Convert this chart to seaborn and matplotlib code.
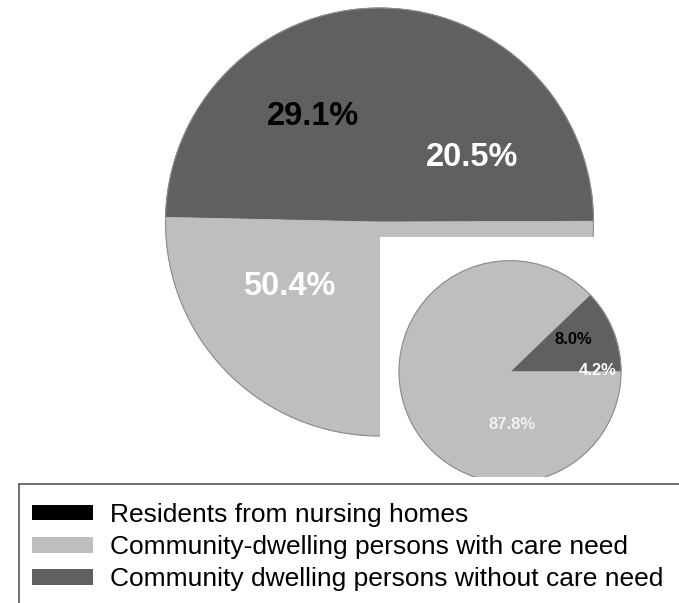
import matplotlib
matplotlib.use("Agg")
import matplotlib.pyplot as plt
from matplotlib.patches import Patch, Rectangle, Circle
import seaborn as sns

# Shares (%) for the large pie: two dark slices and one light slice
big_pct = [20.5, 29.1, 50.4]
big_shade = ["without", "without", "with"]
big_text_color = ["white", "black", "white"]

# Shares (%) for the small pie
small_pct = [4.2, 8.0, 87.8]
small_shade = ["without", "without", "with"]
small_text_color = ["white", "black", "#f2f2f2"]

legend_labels = [
    "Residents from nursing homes",
    "Community-dwelling persons with care need",
    "Community dwelling persons without care need",
]
legend_keys = ["nursing", "with", "without"]

sns.set_theme(style="white")
plt.rcParams["font.family"] = ["Liberation Sans", "DejaVu Sans"]

palette = dict(zip(legend_keys, sns.color_palette(["#000000", "#bebebe", "#606060"])))

W, H = 679, 603
fig = plt.figure(figsize=(W / 100, H / 100), dpi=100)
fig.patch.set_facecolor("white")

# Main canvas in pixel units (y up)
ax = fig.add_axes([0, 0, 1, 1])

bc = (379.5, H - 222.0)
br = 214.0
wedges, _ = ax.pie(big_pct, colors=[palette[k] for k in big_shade], startangle=0.2,
                   counterclock=True, radius=br, center=bc, frame=True)
for w in wedges:
    w.set_edgecolor(w.get_facecolor())
    w.set_linewidth(0.6)
ax.add_patch(Circle(bc, br, fill=False, edgecolor="#8c8c8c", linewidth=0.8))
ax.set_xlim(0, W)
ax.set_ylim(0, H)
ax.set_aspect("auto")
ax.set_axis_off()

# Label offsets from pie centre (pixels, x right / y up)
big_label_offset = [(92.5, 56.0), (-66.5, 97.0), (-90.5, -73.0)]
for pct, col, (dx, dy) in zip(big_pct, big_text_color, big_label_offset):
    ax.text(bc[0] + dx, bc[1] + dy, f"{pct:.1f}%", ha="center", va="baseline",
            fontsize=23.5, fontweight="bold", color=col)

# Inset panel holding the small pie
x0, x1 = 380.0, 679.0
y_top, y_bot = 236.7, 477.0
ins = fig.add_axes([x0 / W, (H - y_bot) / H, (x1 - x0) / W, (y_bot - y_top) / H])
ins.set_facecolor("white")
sc = (510.0, H - 371.7)
sr = 111.0
swedges, _ = ins.pie(small_pct, colors=[palette[k] for k in small_shade], startangle=0,
                     counterclock=True, radius=sr, center=sc, frame=True)
for w in swedges:
    w.set_edgecolor(w.get_facecolor())
    w.set_linewidth(0.6)
    w.set_clip_on(True)
    w.set_clip_path(ins.patch)
outline = Circle(sc, sr, fill=False, edgecolor="#8c8c8c", linewidth=0.8)
ins.add_patch(outline)
outline.set_clip_path(ins.patch)
ins.set_xlim(x0, x1)
ins.set_ylim(H - y_bot, H - y_top)
ins.set_aspect("auto")
ins.set_xticks([])
ins.set_yticks([])
for s in ins.spines.values():
    s.set_visible(False)

small_label_offset = [(87.5, -3.7), (63.0, 27.7), (2.0, -57.3)]
for pct, col, (dx, dy) in zip(small_pct, small_text_color, small_label_offset):
    ins.text(sc[0] + dx, sc[1] + dy, f"{pct:.1f}%", ha="center", va="baseline",
             fontsize=12, fontweight="bold", color=col)

# Legend frame, running off the right and bottom of the figure
fig.patches.append(Rectangle((19.3 / W, -0.1), 1.2, (H - 484.0) / H + 0.1,
                             transform=fig.transFigure, facecolor="white",
                             edgecolor="#555555", linewidth=1.2, zorder=5))
handles = [Patch(facecolor=palette[k], edgecolor="none") for k in legend_keys]
leg = fig.legend(handles, legend_labels, loc="upper left",
                 bbox_to_anchor=(32.3 / W, (H - 503.0) / H), frameon=False,
                 fontsize=19, handlelength=2.31, handleheight=0.53,
                 handletextpad=0.62, labelspacing=0.31, borderpad=0.0,
                 borderaxespad=0.0, labelcolor="black")
leg.set_zorder(6)

fig.savefig("out.png", dpi=100, facecolor="white")
